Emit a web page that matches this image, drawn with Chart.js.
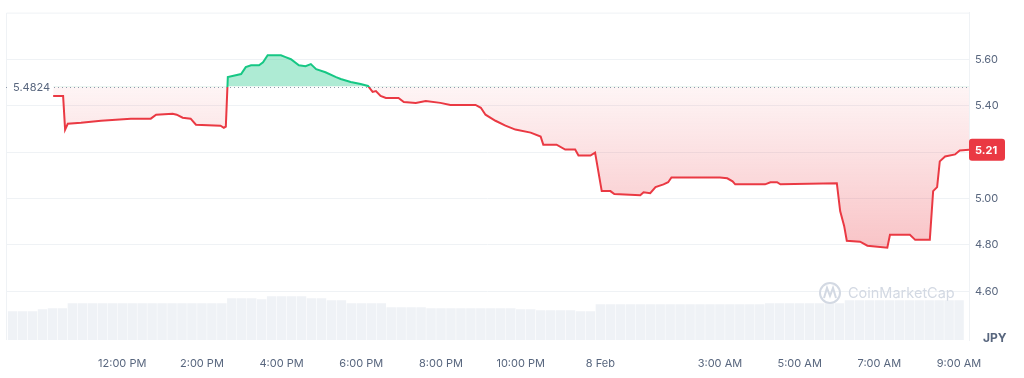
<!DOCTYPE html>
<html>
<head>
<meta charset="utf-8">
<script src="https://cdn.jsdelivr.net/npm/chart.js@4.4.1/dist/chart.umd.min.js"></script>
<style>
  html, body { margin: 0; padding: 0; background: #fff; }
  canvas { display: block; }
</style>
</head>
<body>
<canvas id="chart" width="1024" height="378"></canvas>
<script>
/* global Chart */

// times are minutes since 00:00 on 7 Feb
const priceTimes = [
    616, 631, 634, 638, 658, 688, 733, 763, 771, 796, 802, 811, 823, 831, 868, 873, 876,
    879, 899, 906, 914, 926, 932, 939, 959, 966, 974, 986, 996, 1004, 1012, 1026, 1042, 1049, 1064, 1079, 1090,
    1097, 1102, 1109, 1117, 1136, 1144, 1162, 1177, 1199, 1214, 1252, 1260, 1267, 1282, 1297, 1312, 1335, 1350,
    1354, 1374, 1387, 1402, 1407, 1425, 1432, 1442, 1455, 1461, 1500, 1505, 1515, 1523, 1535, 1542, 1547,
    1620, 1631, 1639, 1643, 1688, 1696, 1706, 1711, 1796, 1801, 1807, 1811, 1831, 1842, 1872, 1876, 1906,
    1914, 1936, 1941, 1947, 1951, 1959, 1974, 1981, 1995
];
const priceValues = [
    5.442, 5.442, 5.297, 5.322, 5.326, 5.335, 5.344, 5.344, 5.361, 5.365, 5.361, 5.348, 5.344, 5.318, 5.314, 5.305, 5.310,
    5.523, 5.536, 5.566, 5.574, 5.574, 5.587, 5.617, 5.617, 5.609, 5.600, 5.574, 5.570, 5.579, 5.557, 5.544, 5.523, 5.515, 5.502, 5.493, 5.485,
    5.459, 5.463, 5.442, 5.433, 5.433, 5.416, 5.412, 5.420, 5.412, 5.403, 5.403, 5.391, 5.361, 5.335, 5.314, 5.297, 5.284, 5.267,
    5.232, 5.232, 5.211, 5.211, 5.185, 5.185, 5.198, 5.032, 5.032, 5.019, 5.014, 5.027, 5.023, 5.049, 5.061, 5.070, 5.091,
    5.091, 5.087, 5.074, 5.061, 5.061, 5.070, 5.070, 5.061, 5.066, 4.946, 4.882, 4.818, 4.814, 4.797, 4.788, 4.844, 4.844,
    4.822, 4.822, 5.032, 5.049, 5.160, 5.181, 5.190, 5.207, 5.210
];

// volume, one bar every 15 minutes starting 9:15 AM
const volumeStart = 555;
const volumeStep = 15;
const volumeValues = [
    29, 29, 29, 31, 32, 32,
    37, 37, 37, 37, 37, 37, 37, 37, 37, 37, 37, 37, 37, 37, 37, 37,
    42, 42, 42, 41, 44, 44, 44, 44, 42, 42, 40, 40, 37, 37, 37, 37, 33, 33, 33, 33,
    32, 32, 32, 32, 32, 32, 32, 32, 32, 31, 31, 30, 30, 30, 30, 29, 29,
    36, 36, 36, 36, 36, 36, 36, 36, 36, 36, 36, 36, 36, 36, 36, 36, 36,
    37, 37, 37, 37, 37, 37, 37, 37,
    40, 40, 40, 40, 40, 40, 40, 40, 40, 40, 40, 40
];

const tickTimes = [720, 840, 960, 1080, 1200, 1320, 1440, 1620, 1740, 1860, 1980];
const tickLabels = ["12:00 PM", "2:00 PM", "4:00 PM", "6:00 PM", "8:00 PM", "10:00 PM", "8 Feb", "3:00 AM", "5:00 AM", "7:00 AM", "9:00 AM"];
const priceTicks = [4.6, 4.8, 5.0, 5.2, 5.4, 5.6];

const baseline = 5.4824;
const lastPrice = 5.21;
const currency = "JPY";

const RED = "#ea3943";
const GREEN = "#16c784";
const TEXT = "#58667e";
const GRID = "#eff2f5";
const FONT = "Inter, 'Noto Sans', sans-serif";

const pricePoints = priceTimes.map((t, i) => ({ x: t, y: priceValues[i] }));
const volumePoints = volumeValues.map((v, i) => ({ x: volumeStart + i * volumeStep, y: v }));

const overlay = {
    id: "overlay",
    beforeDatasetsDraw(chart) {
        const { ctx, chartArea: a } = chart;
        ctx.save();
        ctx.strokeStyle = GRID;
        ctx.lineWidth = 1;
        ctx.beginPath();
        ctx.moveTo(a.left + 0.5, a.bottom);
        ctx.lineTo(a.left + 0.5, a.top + 0.5);
        ctx.lineTo(a.right, a.top + 0.5);
        ctx.stroke();
        ctx.restore();
    },
    afterDraw(chart) {
        const { ctx, chartArea: a, scales } = chart;
        ctx.save();

        // watermark
        const wx = 830, wy = 293;
        ctx.strokeStyle = "#d3d9e3";
        ctx.lineWidth = 2;
        ctx.beginPath();
        ctx.arc(wx, wy, 10, 0, Math.PI * 2);
        ctx.stroke();
        ctx.beginPath();
        ctx.moveTo(wx - 6, wy + 5);
        ctx.lineTo(wx - 3, wy - 5);
        ctx.lineTo(wx, wy + 3);
        ctx.lineTo(wx + 3, wy - 5);
        ctx.lineTo(wx + 6, wy + 5);
        ctx.stroke();
        ctx.fillStyle = "#d3d9e3";
        ctx.font = "14.5px " + FONT;
        ctx.textBaseline = "middle";
        ctx.fillText("CoinMarketCap", 848, wy + 1);

        // baseline (open price)
        const by = Math.round(scales.y.getPixelForValue(baseline)) + 0.5;
        ctx.strokeStyle = "#8f99ab";
        ctx.lineWidth = 1;
        ctx.setLineDash([1, 3]);
        ctx.beginPath();
        ctx.moveTo(a.left, by);
        ctx.lineTo(a.right, by);
        ctx.stroke();
        ctx.setLineDash([]);
        ctx.fillStyle = "#fff";
        ctx.fillRect(10, by - 7, 43, 14);
        ctx.fillStyle = TEXT;
        ctx.font = "11px " + FONT;
        ctx.fillText(baseline.toString(), 13, by);

        // last price badge
        const py = scales.y.getPixelForValue(lastPrice);
        ctx.fillStyle = RED;
        ctx.beginPath();
        ctx.roundRect(a.right, py - 11, 36, 22, 3);
        ctx.fill();
        ctx.fillStyle = "#fff";
        ctx.font = "bold 11px " + FONT;
        ctx.fillText(lastPrice.toFixed(2), a.right + 6, py + 0.5);

        // currency
        ctx.fillStyle = TEXT;
        ctx.font = "bold 12px " + FONT;
        ctx.fillText(currency, 983, 338);
        ctx.restore();
    }
};

const chart = new Chart(document.getElementById("chart"), {
    data: {
        datasets: [
            {
                type: "line",
                data: pricePoints,
                yAxisID: "y",
                borderColor: RED,
                borderWidth: 2,
                pointRadius: 0,
                tension: 0,
                order: 1,
                fill: { target: { value: baseline }, above: "rgba(22,199,132,0.35)", below: "rgba(234,57,67,0.12)" }
            },
            {
                type: "bar",
                data: volumePoints,
                yAxisID: "yv",
                backgroundColor: "#eff2f6",
                barPercentage: 0.95,
                categoryPercentage: 1,
                order: 2
            }
        ]
    },
    options: {
        responsive: false,
        animation: false,
        layout: { padding: { left: 6, top: 10, right: 0, bottom: 0 } },
        plugins: { legend: { display: false }, tooltip: { enabled: false } },
        scales: {
            x: {
                type: "linear",
                offset: false,
                min: 545,
                max: 1995,
                grid: { display: false, offset: false },
                border: { display: false },
                afterBuildTicks: s => { s.ticks = tickTimes.map(v => ({ value: v })); },
                afterFit: s => { s.height = 38; },
                ticks: {
                    autoSkip: false,
                    maxRotation: 0,
                    padding: 9,
                    color: TEXT,
                    font: { family: FONT, size: 11 },
                    callback: v => tickLabels[tickTimes.indexOf(v)]
                }
            },
            y: {
                position: "right",
                min: 4.3906,
                max: 5.8009,
                afterBuildTicks: s => { s.ticks = priceTicks.map(v => ({ value: v })); },
                afterFit: s => { s.width = 55; },
                grid: { color: GRID, drawTicks: false },
                border: { display: true, color: GRID },
                ticks: {
                    padding: 6,
                    color: TEXT,
                    font: { family: FONT, size: 11 },
                    callback: v => v.toFixed(2)
                }
            },
            yv: { display: false, min: 0, max: 330 }
        }
    },
    plugins: [overlay]
});

// colour the line and the red fill by the baseline
const a = chart.chartArea;
const ctx = chart.ctx;
const by = chart.scales.y.getPixelForValue(baseline);
const stop = (by - a.top) / (a.bottom - a.top);
const lineGrad = ctx.createLinearGradient(0, a.top, 0, a.bottom);
lineGrad.addColorStop(0, GREEN);
lineGrad.addColorStop(stop, GREEN);
lineGrad.addColorStop(stop, RED);
lineGrad.addColorStop(1, RED);
const redGrad = ctx.createLinearGradient(0, by, 0, chart.scales.y.getPixelForValue(4.78));
redGrad.addColorStop(0, "rgba(234,57,67,0.05)");
redGrad.addColorStop(1, "rgba(234,57,67,0.3)");
const ds = chart.data.datasets[0];
ds.borderColor = lineGrad;
ds.fill = { target: { value: baseline }, above: "rgba(22,199,132,0.35)", below: redGrad };
chart.update();
</script>
</body>
</html>
